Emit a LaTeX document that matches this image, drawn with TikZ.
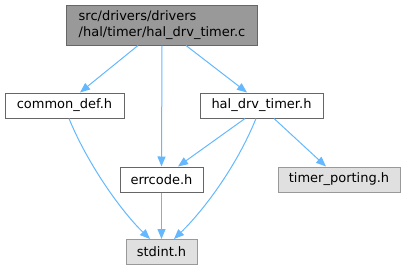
\documentclass[tikz,border=0pt]{standalone}
\usepackage{fontspec}
\setmainfont{DejaVu Sans}
\usetikzlibrary{arrows.meta,calc}
\definecolor{edgeblue}{HTML}{63B8FF}
\definecolor{bdark}{HTML}{666666}
\definecolor{bgray}{HTML}{999999}
\definecolor{fgray}{HTML}{E0E0E0}
\begin{document}
\begin{tikzpicture}[x=1pt,y=-1pt,
  box/.style={draw=bdark,fill=white,line width=1pt,minimum height=25pt,inner sep=0pt,font=\fontsize{13}{16}\selectfont},
  extbox/.style={box,draw=bgray,fill=fgray},
  edge/.style={draw=edgeblue,line width=1pt,-{Triangle[length=10pt,width=8pt]}}]
\useasboundingbox (0,0) rectangle (406,271);
\node[box,fill=bgray,minimum width=191pt,minimum height=40pt,align=left] (top) at (162,25) {src/drivers/drivers\\/hal/timer/hal\_drv\_timer.c};
\node[box,minimum width=119pt] (cd) at (64.5,105.5) {common\_def.h};
\node[box,minimum width=123pt] (hal) at (261.5,105.5) {hal\_drv\_timer.h};
\node[box,minimum width=83pt] (err) at (161.5,179.5) {errcode.h};
\node[extbox,minimum width=122pt] (tp) at (339,179.5) {timer\_porting.h};
\node[extbox,minimum width=71pt] (std) at (161.5,252) {stdint.h};
\draw[edge] ([xshift=-24pt]top.south) -- ([xshift=15.5pt]cd.north);
\draw[edge] (top.south) -- (err.north);
\draw[edge] ([xshift=24pt]top.south) -- ([xshift=-14.5pt]hal.north);
\draw[edge] ([xshift=4.5pt]cd.south) .. controls (88,165) and (122,212) .. ([xshift=-11.5pt]std.north);
\draw[edge] ([xshift=-16.5pt]hal.south) -- ([xshift=16.5pt]err.north);
\draw[edge] ([xshift=-5.5pt]hal.south) .. controls (236,168) and (202,212) .. ([xshift=12.5pt]std.north);
\draw[edge] ([xshift=12.5pt]hal.south) -- ([xshift=-13pt]tp.north);
\draw[edge] (err.south) -- (std.north);
\end{tikzpicture}
\end{document}
